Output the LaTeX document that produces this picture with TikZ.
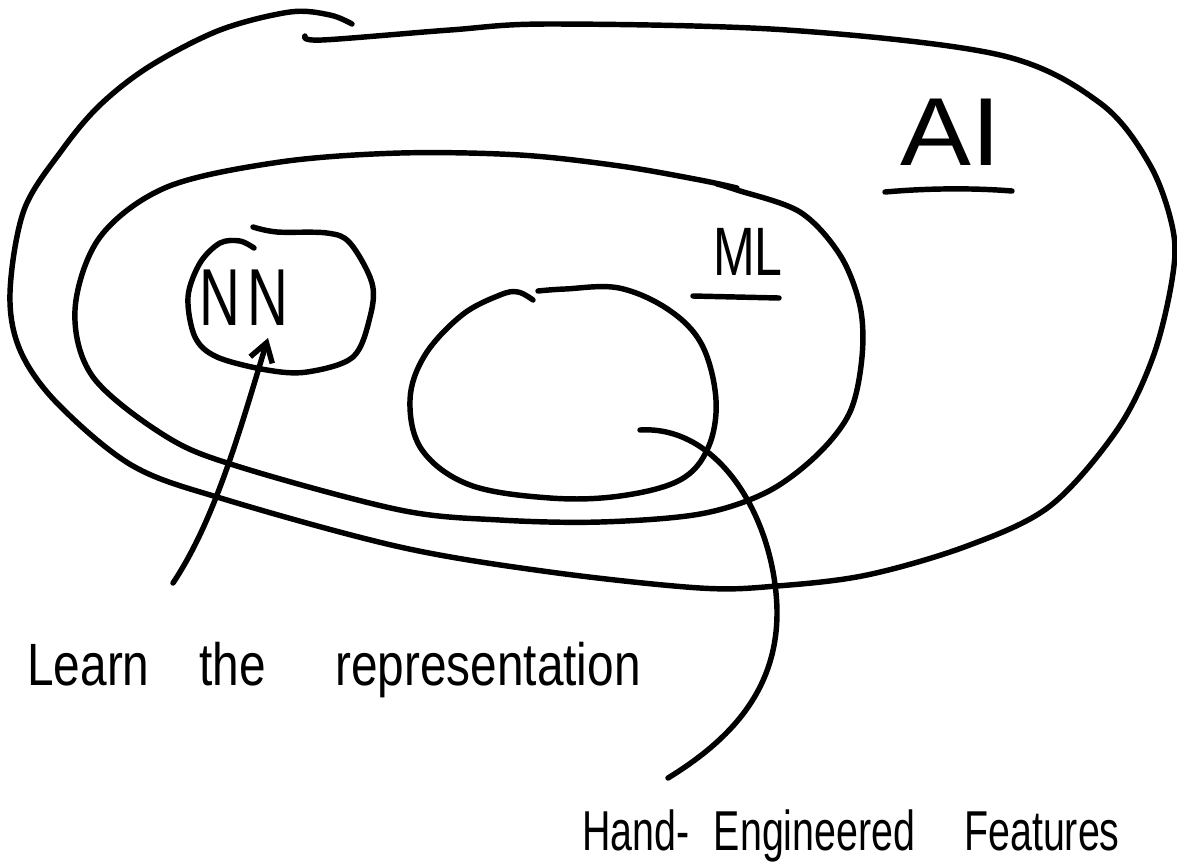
\documentclass[tikz,border=0pt]{standalone}
\usepackage{fontspec}
\setmainfont{Liberation Sans}
\usetikzlibrary{arrows.meta}
\begin{document}
\begin{tikzpicture}[x=0.02cm,y=-0.02cm,
  pen/.style={line width=3.1pt,line cap=round,line join=round},
  lbl/.style={inner sep=0pt,anchor=base},
  barb/.style={-{Straight Barb[length=3.6mm,width=4.6mm,line width=3.1pt]}}]
\useasboundingbox (0,0) rectangle (1177,867);
% outer AI blob
\draw[pen] plot[smooth,tension=0.55] coordinates {(305,36) (322,40) (450,30) (550,24) (787,30) (1000,55) (1100,103) (1150,165) (1173,230) (1172,280) (1153,357) (1117,430) (1050,506) (967,546) (867,575) (777,586) (700,588) (550,572) (400,547) (227,500) (133,466) (57,403) (20,350) (10,293) (24,210) (62,150) (100,105) (150,66) (220,30) (290,12) (330,15) (352,24)};
% ML blob
\draw[pen] plot[smooth,tension=0.55] coordinates {(717,184) (737,190) (800,212) (840,255) (860,306) (862,357) (850,412) (817,455) (767,492) (700,514) (600,522) (500,520) (400,510) (240,467) (167,437) (93,377) (75,310) (100,237) (167,187) (280,162) (400,153) (520,155) (620,166) (700,180) (737,188)};
% NN circle
\draw[pen] plot[smooth,tension=0.55] coordinates {(253,227) (277,232) (327,233) (350,243) (372,283) (370,317) (353,357) (307,372) (267,370) (217,357) (195,337) (188,297) (200,263) (220,243) (240,241) (254,248)};
% inner circle
\draw[pen] plot[smooth,tension=0.6] coordinates {(538,291) (565,289) (619,288) (669,310) (702,345) (716,400) (708,448) (680,480) (620,496) (550,498) (470,485) (422,450) (410,400) (425,355) (462,315) (500,295) (518,292) (533,300)};
% texts
\node[lbl,font=\fontsize{55}{57}\selectfont] (ai) at (951,165) {\scalebox{1.1}[1]{AI}};
\draw[pen] (885,192) .. controls (930,188) and (975,188) .. (1012,191);
\node[lbl,font=\fontsize{39}{41}\selectfont] (ml) at (748,275) {\scalebox{0.73}[1]{ML}};
\draw[pen] (693,296) -- (779,298);
\node[lbl,font=\fontsize{46}{48}\selectfont] (nn) at (244,325) {\scalebox{0.7}[1]{N\hspace{6pt}N}};
\node[lbl,anchor=base west,font=\fontsize{34}{36}\selectfont] (learn) at (27,685) {\scalebox{0.8}[1]{Learn\ \hspace{26pt}the\ \hspace{40pt}representation}};
\node[lbl,anchor=base west,font=\fontsize{32}{34}\selectfont] (hef) at (582,850) {\scalebox{0.7}[1]{Hand-\ \hspace{11pt}Engineered\ \hspace{31pt}Features}};
% connectors
\coordinate (lstart) at (173,583);
\coordinate (nntip) at (268,338);
\draw[pen,barb] (lstart) .. controls (215,520) and (240,430) .. (nntip);
\coordinate (fstart) at (640,430);
\coordinate (fend) at (668,778);
\draw[pen] (fstart) .. controls (720,425) and (775,520) .. (777,610) .. controls (778,690) and (730,740) .. (fend);
\end{tikzpicture}
\end{document}
